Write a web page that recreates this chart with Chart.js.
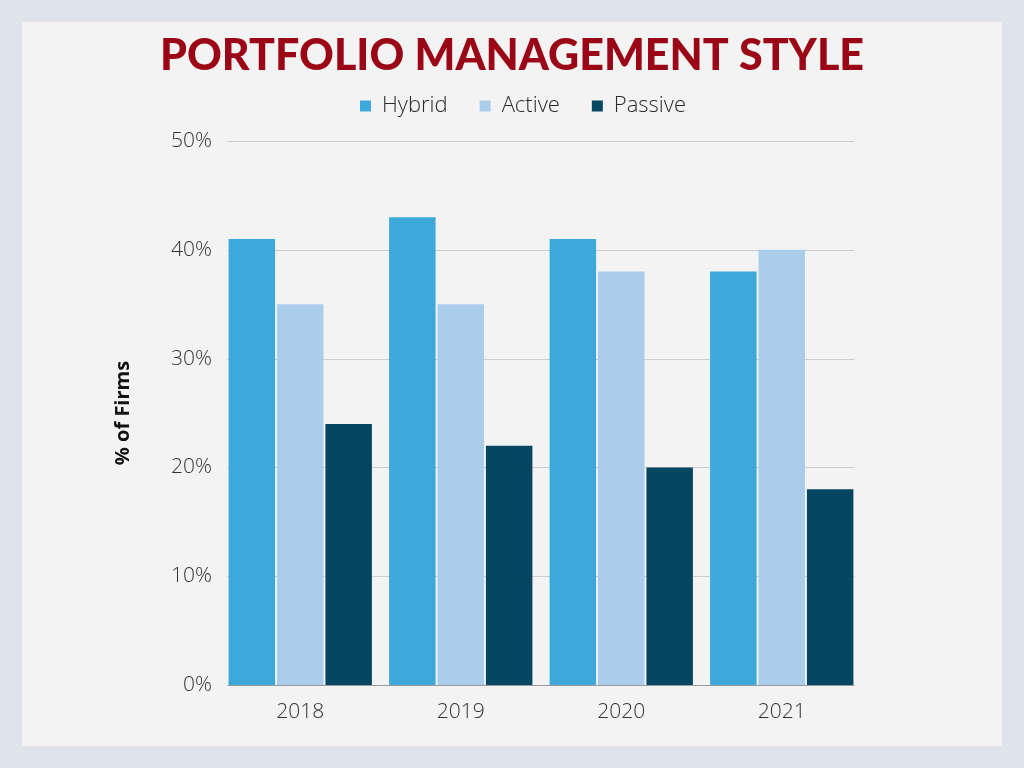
<!DOCTYPE html>
<html><head><meta charset="utf-8">
<script src="https://cdn.jsdelivr.net/npm/chart.js@4.4.1/dist/chart.umd.min.js"></script>
<style>
html,body{margin:0;padding:0;width:1024px;height:768px;overflow:hidden;background:#dfe4ea;}
#panel{position:absolute;left:22px;top:22px;width:980px;height:724px;background:#f3f3f3;}
#wrap{position:absolute;left:0;top:0;width:1024px;height:768px;}
</style></head>
<body>
<div id="panel"></div>
<div id="wrap"><canvas id="c" width="1024" height="768"></canvas></div>
<script>
const categories = ['2018','2019','2020','2021'];
const hybrid = [41, 43, 41, 38];
const active = [35, 35, 38, 40];
const passive = [24, 22, 20, 18];
const yTicks = [0, 10, 20, 30, 40, 50];
const titleText = 'PORTFOLIO MANAGEMENT STYLE';
const yTitle = '% of Firms';

const gridPlugin = {
  id: 'customGrid',
  afterLayout(chart) {
    if (chart.legend) { chart.legend.left += 11; chart.legend.right += 11; }
  },
  beforeDatasetsDraw(chart) {
    const y = chart.scales.y;
    const first = chart.getDatasetMeta(0).data[0];
    const lastMeta = chart.getDatasetMeta(chart.data.datasets.length - 1);
    const last = lastMeta.data[lastMeta.data.length - 1];
    const x0 = first.x - first.width / 2 - 1;
    const x1 = last.x + last.width / 2 + 1;
    const ctx = chart.ctx;
    ctx.save();
    y.ticks.forEach(t => {
      const py = Math.round(y.getPixelForValue(t.value)) + 0.5;
      ctx.strokeStyle = t.value === 0 ? '#9a9a9a' : '#cccccc';
      ctx.lineWidth = 1;
      ctx.beginPath(); ctx.moveTo(x0, py); ctx.lineTo(x1, py); ctx.stroke();
    });
    ctx.restore();
  }
};

const hiddenGrid = {display: false, drawTicks: false, tickLength: 0};

new Chart(document.getElementById('c'), {
  type: 'bar',
  data: {
    labels: categories,
    datasets: [
      {label: 'Hybrid', data: hybrid, backgroundColor: '#3ea8db', yAxisID: 'y', xAxisID: 'x'},
      {label: 'Active', data: active, backgroundColor: '#abcdec', yAxisID: 'y', xAxisID: 'x'},
      {label: 'Passive', data: passive, backgroundColor: '#054761', yAxisID: 'y', xAxisID: 'x'}
    ]
  },
  plugins: [gridPlugin],
  options: {
    responsive: false,
    animation: false,
    devicePixelRatio: 1,
    layout: {padding: {left: 62, right: 62, top: 0, bottom: 30}},
    datasets: {bar: {categoryPercentage: 0.905, barPercentage: 0.96}},
    plugins: {
      title: {
        display: true, text: titleText, color: '#9b0616',
        font: {family: 'Lato', size: 43, weight: '900', lineHeight: 1.2},
        padding: {top: 30, bottom: -18.6}
      },
      legend: {
        position: 'top',
        labels: {
          boxWidth: 11, boxHeight: 11, padding: 32, color: '#2a2a2a',
          font: {family: 'Open Sans', size: 22, weight: '300'}
        }
      },
      tooltip: {enabled: false}
    },
    scales: {
      x: {
        grid: hiddenGrid,
        border: {display: false},
        ticks: {color: '#333333', padding: 14, font: {family: 'Open Sans', size: 21, weight: '300'}},
        afterFit(s) { s.height = 53; }
      },
      xTop: {
        axis: 'x', type: 'linear', position: 'top', display: true,
        grid: hiddenGrid, border: {display: false}, ticks: {display: false},
        afterFit(s) { s.height = 14; }
      },
      y: {
        min: 0, max: 50,
        afterBuildTicks(s) { s.ticks = yTicks.map(v => ({value: v})); },
        grid: hiddenGrid,
        border: {display: false},
        ticks: {color: '#333333', padding: 8, font: {family: 'Open Sans', size: 21, weight: '300'},
                callback: v => v + '%'},
        title: {display: true, text: yTitle, color: '#111111', padding: {top: 49, bottom: 0},
                font: {family: 'Open Sans', size: 20, weight: 'bold'}},
        afterFit(s) { s.width = 158; }
      },
      yRight: {
        axis: 'y', type: 'linear', position: 'right', display: true,
        grid: hiddenGrid, border: {display: false}, ticks: {display: false},
        afterFit(s) { s.width = 100; }
      }
    }
  }
});
</script>
</body></html>
